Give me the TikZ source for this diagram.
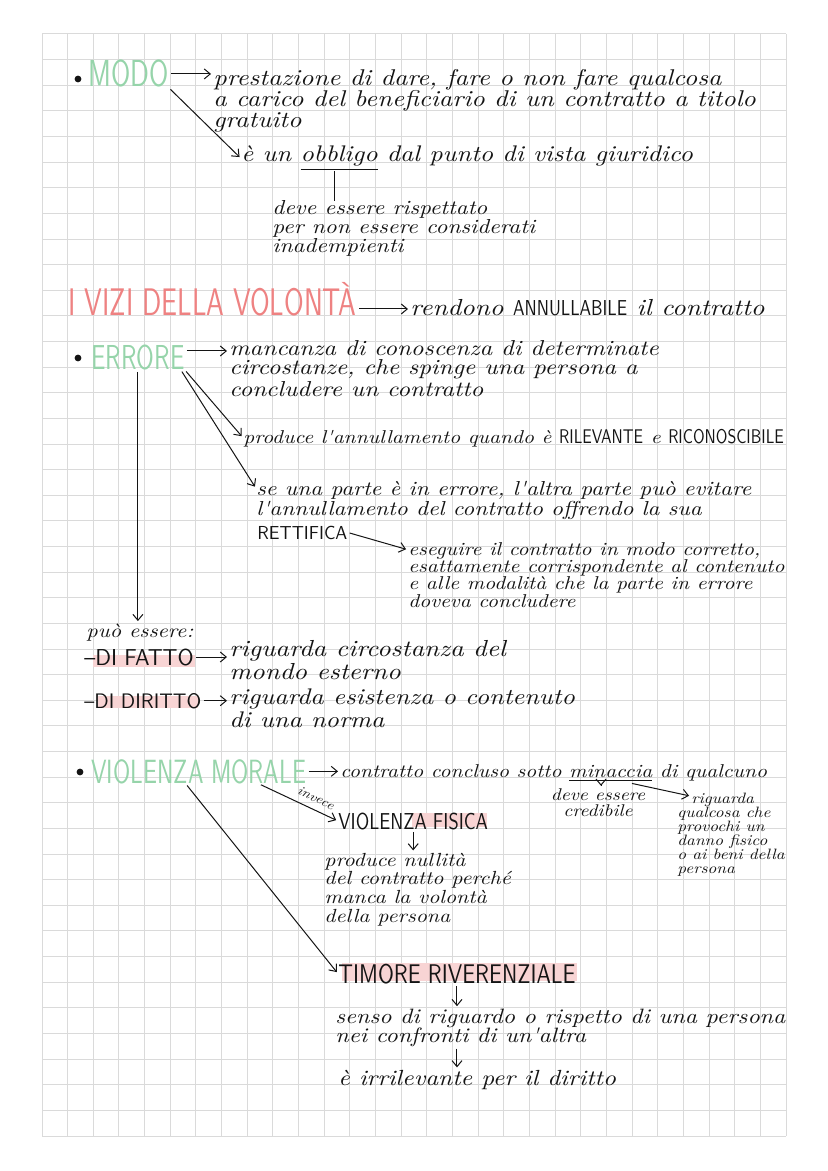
\documentclass[tikz,border=0pt]{standalone}
\usepackage{fontspec}
\usetikzlibrary{arrows.meta,calc}
\newfontfamily\handfont{lmroman10-italic.otf}[FakeStretch=1.15]
\newfontfamily\headfont{lmsans17-regular.otf}[FakeStretch=0.74]
\newfontfamily\capfont{lmsans10-regular.otf}[FakeStretch=0.95]
\newfontfamily\capnarrow{lmsans10-regular.otf}[FakeStretch=0.8]
\newcommand\ucap[2][10.5]{{\capnarrow\fontsize{#1}{#1}\selectfont #2}}
\definecolor{mint}{RGB}{150,212,170}
\definecolor{salmon}{RGB}{238,130,130}
\definecolor{hlpink}{RGB}{248,212,212}
\definecolor{gridgray}{RGB}{218,218,218}
\definecolor{ink}{RGB}{20,20,20}
\tikzset{
	hand/.style 2 args={font=\handfont\fontsize{#1}{#2}\selectfont,inner sep=0pt,align=left,anchor=base west,text=ink},
	head/.style 2 args={font=\headfont\fontsize{#1}{#1}\selectfont,inner sep=0pt,anchor=base west,text=#2},
	caps/.style={font=\capfont\fontsize{#1}{#1}\selectfont,inner sep=0pt,anchor=base west,text=ink},
	ncaps/.style={font=\capnarrow\fontsize{#1}{#1}\selectfont,inner sep=0pt,anchor=base west,text=ink},
	bullet/.style={circle,inner sep=1.2pt,fill=ink},
	arr/.style={draw=ink,line width=0.5pt,-{Straight Barb[length=3pt,width=5pt]},shorten >=1pt,shorten <=1pt},
	gridline/.style={draw=gridgray,line width=0.5pt},
	hilite/.style={fill=hlpink}
}
\begin{document}
\begin{tikzpicture}[x=0.5pt,y=-0.5pt]
	\useasboundingbox (0,0) rectangle (828,1171);
	\foreach \i in {0,...,29}
		\draw[gridline] ({42+25.655*\i},34) -- ({42+25.655*\i},1136);
	\foreach \j in {0,...,43}
		\draw[gridline] (42,{34+25.628*\j}) -- (786,{34+25.628*\j});

	\fill[hilite] (93,655) rectangle (195,667);
	\fill[hilite] (98,696) rectangle (198,708);
	\fill[hilite] (412,813) rectangle (487,827);
	\fill[hilite] (342,963) rectangle (577,981);

	\node[bullet] (b1) at (78,79) {};
	\node[bullet] (b2) at (78,358) {};
	\node[bullet] (b3) at (80,772) {};

	\node[head={18.8}{mint}] (modo) at (88,87) {MODO};
	\node[hand={11.4}{10.5}] (prest) at (213,128) {prestazione di dare, fare o non fare qualcosa\\ a carico del beneficiario di un contratto a titolo\\ gratuito};
	\node[hand={11.3}{11.3}] (obbl) at (241,162) {è un \underline{obbligo} dal punto di vista giuridico};
	\coordinate (uo) at (334,171);
	\node[hand={10.1}{9.5}] (deve) at (272,253) {deve essere rispettato\\ per non essere considerati\\ inadempienti};

	\node[head={19.2}{salmon}] (vizi) at (68,316) {I VIZI DELLA VOLONTÀ};
	\node[hand={11.6}{11.6}] (rend) at (410,315) {rendono \ucap[10.8]{ANNULLABILE} il contratto};

	\node[head={17.3}{mint}] (errore) at (91,369) {ERRORE};
	\node[hand={10.8}{9.5}] (manc) at (229,396) {mancanza di conoscenza di determinate\\ circostanze, che spinge una persona a\\ concludere un contratto};
	\node[hand={9.3}{9.3}] (prod) at (243,443) {produce l'annullamento quando è \ucap[9.9]{RILEVANTE} e \ucap[9.9]{RICONOSCIBILE}};
	\node[hand={10.1}{10}] (separte) at (256,515) {se una parte è in errore, l'altra parte può evitare\\ l'annullamento del contratto offrendo la sua};
	\node[caps=9.4] (rett) at (257,539) {RETTIFICA};
	\node[hand={9.3}{8.65}] (eseg) at (408,607) {eseguire il contratto in modo corretto,\\ esattamente corrispondente al contenuto\\ e alle modalità che la parte in errore\\ doveva concludere};

	\node[hand={9.7}{9.7}] (puo) at (86,637) {può essere:};
	\node[caps=11.5] (fatto) at (84,665) {–DI FATTO};
	\node[hand={11.6}{8.5}] (rfatto) at (229,679) {riguarda circostanza del\\ mondo esterno};
	\node[caps=10.5] (diritto) at (84,708) {–DI DIRITTO};
	\node[hand={11.3}{9.5}] (rdir) at (229,727) {riguarda esistenza o contenuto\\ di una norma};

	\node[head={16.8}{mint}] (morale) at (91,783) {VIOLENZA MORALE};
	\node[hand={9.3}{9.3}] (concl) at (340,777) {contratto concluso sotto \underline{minaccia} di qualcuno};
	\coordinate (um1) at (601,783);
	\coordinate (um2) at (630,783);
	\node[hand={8.5}{8},align=center,anchor=base] (cred) at (598,816) {deve essere\\ credibile};
	\node[hand={7.5}{7}] (rq) at (677,873) {\hspace*{7pt}riguarda\\ qualcosa che\\ provochi un\\ danno fisico\\ o ai beni della\\ persona};
	\node[ncaps=11.5] (fisica) at (338,829) {VIOLENZA FISICA};
	\node[hand={9.5}{9.33}] (nul) at (324,922) {produce nullità\\ del contratto perché\\ manca la volontà\\ della persona};
	\node[ncaps=13.5] (timore) at (338,983) {TIMORE RIVERENZIALE};
	\node[hand={10.4}{9.5}] (senso) at (335,1042) {senso di riguardo o rispetto di una persona\\ nei confronti di un'altra};
	\node[hand={10.95}{10.95}] (irril) at (338,1085) {è irrilevante per il diritto};

	\draw[arr] (modo.east) -- (modo.east -| prest.west);
	\draw[arr] (modo.south east) -- (obbl.west);
	\draw[line width=0.5pt,draw=ink] (uo) -- (uo |- deve.north);
	\draw[arr] ([yshift=3.5pt]vizi.base east) -- ([yshift=3.5pt]vizi.base east -| rend.west);
	\draw[arr] ([yshift=3pt]errore.east) -- ([yshift=3pt]errore.east -| manc.west);
	\draw[arr] (errore.south east) -- (prod.west);
	\draw[arr] ([xshift=-2pt]errore.south east) -- ([yshift=-4pt]separte.north west);
	\draw[arr] (errore.south) -- (errore.south |- puo.north);
	\draw[arr] (rett.east) -- ([yshift=-4pt]eseg.north west);
	\draw[arr] (fatto.east) -- (fatto.east -| rfatto.west);
	\draw[arr] (diritto.east) -- (diritto.east -| rdir.west);
	\draw[arr] (morale.east) -- (morale.east -| concl.west);
	\draw[arr] (um1) -- (um1 |- cred.north);
	\draw[arr] (um2) -- ([xshift=7pt,yshift=-2pt]rq.north west);
	\draw[arr] ($(morale.south west)!0.78!(morale.south east)$) -- (fisica.west)
		node[pos=0.66,sloped,above=0pt,font=\handfont\fontsize{6.5}{6.5}\selectfont,text=ink] (inv) {invece};
	\draw[arr] ($(morale.south west)!0.44!(morale.south east)$) -- (timore.west);
	\draw[arr] (fisica.south) -- (fisica.south |- nul.north);
	\draw[arr] (timore.south) -- (timore.south |- senso.north);
	\draw[arr] (timore.south |- senso.south) -- (timore.south |- irril.north);
\end{tikzpicture}
\end{document}
